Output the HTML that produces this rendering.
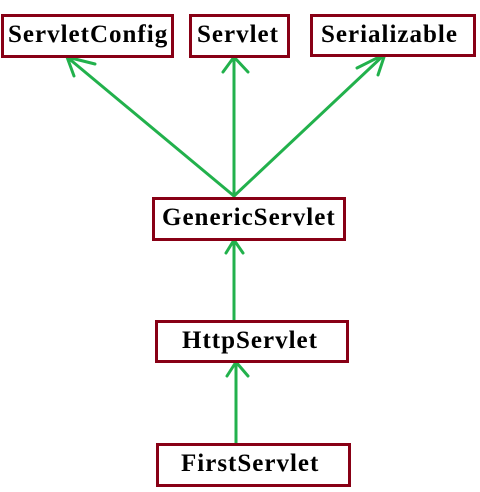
<!DOCTYPE html>
<html><head><style>
body{margin:0;width:480px;height:492px;background:#fff;position:relative;overflow:hidden}
.b{position:absolute;box-sizing:border-box;border:3px solid #880015;background:#fff;font-family:"Liberation Serif",serif;font-weight:bold;font-size:25px;letter-spacing:1px;line-height:36px;color:#000;white-space:nowrap}
svg{position:absolute;left:0;top:0}
</style></head><body>
<svg width="480" height="492"><g stroke="#22b14c" stroke-width="3" fill="none" stroke-linecap="round" stroke-linejoin="round">
<path d="M234 196 L67 57 M74 76 L67 57 L95 64"/>
<path d="M234 196 L234 57 M223 72 L234 57 L248 72"/>
<path d="M234 196 L385 54 M357 68 L385 54 L378 75"/>
<path d="M234 320 L234 240 M226 253 L234 240 L243 253"/>
<path d="M236 443 L236 362 M227 376 L236 362 L248 376"/>
</g></svg>
<div class="b" style="left:1px;top:14px;width:173px;height:44px;padding-left:4px">ServletConfig</div>
<div class="b" style="left:189px;top:14px;width:101px;height:44px;padding-left:5px">Servlet</div>
<div class="b" style="left:310px;top:14px;width:166px;height:43px;padding-left:8px">Serializable</div>
<div class="b" style="left:152px;top:197px;width:194px;height:44px;padding-left:7px">GenericServlet</div>
<div class="b" style="left:155px;top:320px;width:194px;height:43px;padding-left:24px">HttpServlet</div>
<div class="b" style="left:156px;top:443px;width:195px;height:44px;padding-left:22px">FirstServlet</div>
</body></html>
